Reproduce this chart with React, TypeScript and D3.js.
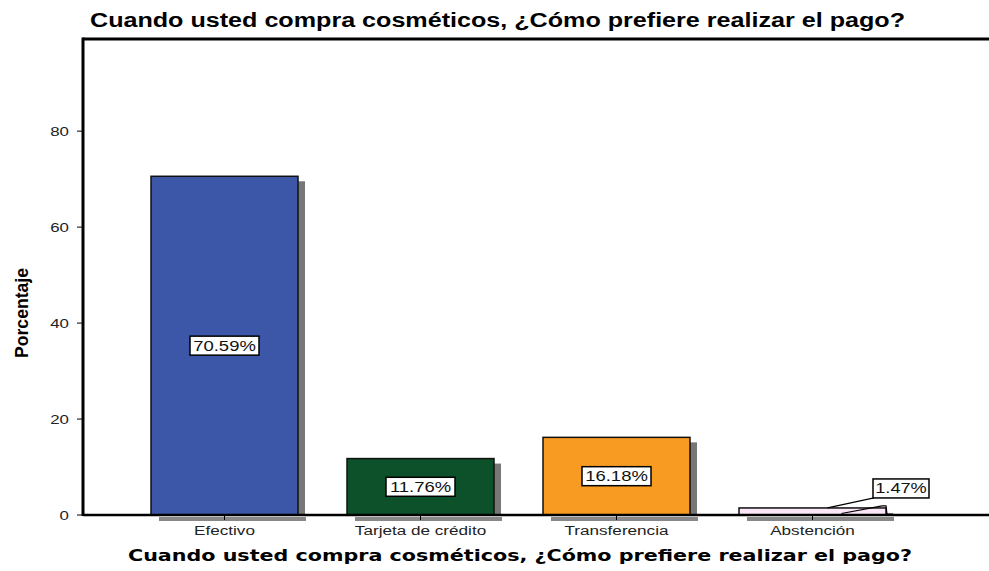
import React from "react";
import * as d3 from "d3";

const categories = ["Efectivo", "Tarjeta de crédito", "Transferencia", "Abstención"];
const values = [70.59, 11.76, 16.18, 1.47];
const labels = ["70.59%", "11.76%", "16.18%", "1.47%"];
const colors = ["#3d57a8", "#0c5129", "#f79b22", "#fbe6f7"];
const yTicks = [0, 20, 40, 60, 80];

const W = 989, H = 571;
const left = 83, top = 39, bottom = 515;
const font = "'Liberation Sans', Arial, sans-serif";

function SText(props: { x: number; y: number; sx: number; size: number; anchor?: string; fill?: string; children: React.ReactNode }) {
  return (
    <text
      transform={`translate(${props.x},${props.y}) scale(${props.sx},1)`}
      textAnchor={props.anchor || "middle"}
      fontFamily={font}
      fontSize={props.size}
      fill={props.fill || "#222"}
    >
      {props.children}
    </text>
  );
}

export default function App() {
  const y = d3.scaleLinear().domain([0, 99.2]).range([bottom, top]);
  const x = d3.scaleBand<string>().domain(categories).range([126.5, 910.5]).paddingInner(0.25).paddingOuter(0.125);
  const bw = x.bandwidth();
  return (
    <svg width={W} height={H} style={{ position: "absolute", left: 0, top: 0, background: "#fff" }}>
      <rect width={W} height={H} fill="#fff" />
      <text x={90} y={27} fontFamily={font} fontWeight="bold" fontSize={20} fill="#000" textLength={815} lengthAdjust="spacingAndGlyphs">
        Cuando usted compra cosméticos, ¿Cómo prefiere realizar el pago?
      </text>
      {/* frame */}
      <line x1={left} x2={W} y1={top} y2={top} stroke="#000" strokeWidth={3} />
      {/* bars */}
      {categories.map((c, i) => {
        const x0 = x(c)!;
        const yv = y(values[i]);
        const h = bottom - yv;
        return (
          <g key={c}>
            <rect x={x0 + bw} y={yv + 5} width={7} height={Math.max(0, h - 5)} fill="#777" />
            <rect x={x0 + 8} y={bottom + 2} width={bw} height={4} fill="#888" />
            <rect x={x0} y={yv} width={bw} height={h} fill={colors[i]} stroke="#111" strokeWidth={1.5} />
            <line x1={x0 + bw / 2} x2={x0 + bw / 2} y1={bottom} y2={bottom + 5} stroke="#000" strokeWidth={1} />
            <SText x={x0 + bw / 2} y={bottom + 20} sx={1.37} size={12.5}>{c}</SText>
          </g>
        );
      })}
      {/* value labels */}
      {categories.map((c, i) => {
        const x0 = x(c)!;
        const cx = x0 + bw / 2;
        const yv = y(values[i]);
        const inside = bottom - yv > 30;
        const w = 69, h = 19;
        if (inside) {
          const cy = (yv + bottom) / 2;
          return (
            <g key={"l" + c}>
              <rect x={cx - w / 2} y={cy - h / 2} width={w} height={h} fill="#fff" stroke="#000" strokeWidth={1.5} />
              <SText x={cx} y={cy + 5} sx={1.32} size={14} fill="#111">{labels[i]}</SText>
            </g>
          );
        }
        const bx = x0 + bw - 13, by = yv - 29;
        const bw2 = 56;
        return (
          <g key={"l" + c}>
            <polyline points={`${cx + 15},${yv} ${bx + 1},${by + h}`} fill="none" stroke="#000" strokeWidth={1.2} />
            <polyline points={`${cx + 29},${bottom - 1.5} ${bx + 9},${yv - 2} ${bx + 13},${yv - 2} ${bx + 14},${bottom - 1}`} fill="none" stroke="#000" strokeWidth={1.2} />
            <rect x={bx} y={by} width={bw2} height={h} fill="#fff" stroke="#000" strokeWidth={1.5} />
            <SText x={bx + bw2 / 2} y={by + 14.5} sx={1.3} size={14} fill="#111">{labels[i]}</SText>
          </g>
        );
      })}
      {/* axes */}
      <line x1={left} x2={left} y1={top - 1.5} y2={bottom + 1} stroke="#000" strokeWidth={3} />
      <line x1={left} x2={W} y1={bottom} y2={bottom} stroke="#000" strokeWidth={2.5} />
      {yTicks.map((t) => (
        <g key={t}>
          <line x1={left - 6} x2={left} y1={y(t)} y2={y(t)} stroke="#000" strokeWidth={1} />
          <SText x={left - 14} y={y(t) + 5} sx={1.35} size={12.5} anchor="end">{t}</SText>
        </g>
      ))}
      <text transform={`translate(28,${313}) rotate(-90)`} textAnchor="middle" fontFamily={font} fontWeight="bold" fontSize={18} fill="#000" textLength={90} lengthAdjust="spacingAndGlyphs">
        Porcentaje
      </text>
      <text x={520} y={561} textAnchor="middle" fontFamily="'DejaVu Sans', Verdana, sans-serif" fontWeight="bold" fontSize={16} fill="#000" textLength={784} lengthAdjust="spacingAndGlyphs">
        Cuando usted compra cosméticos, ¿Cómo prefiere realizar el pago?
      </text>
    </svg>
  );
}
